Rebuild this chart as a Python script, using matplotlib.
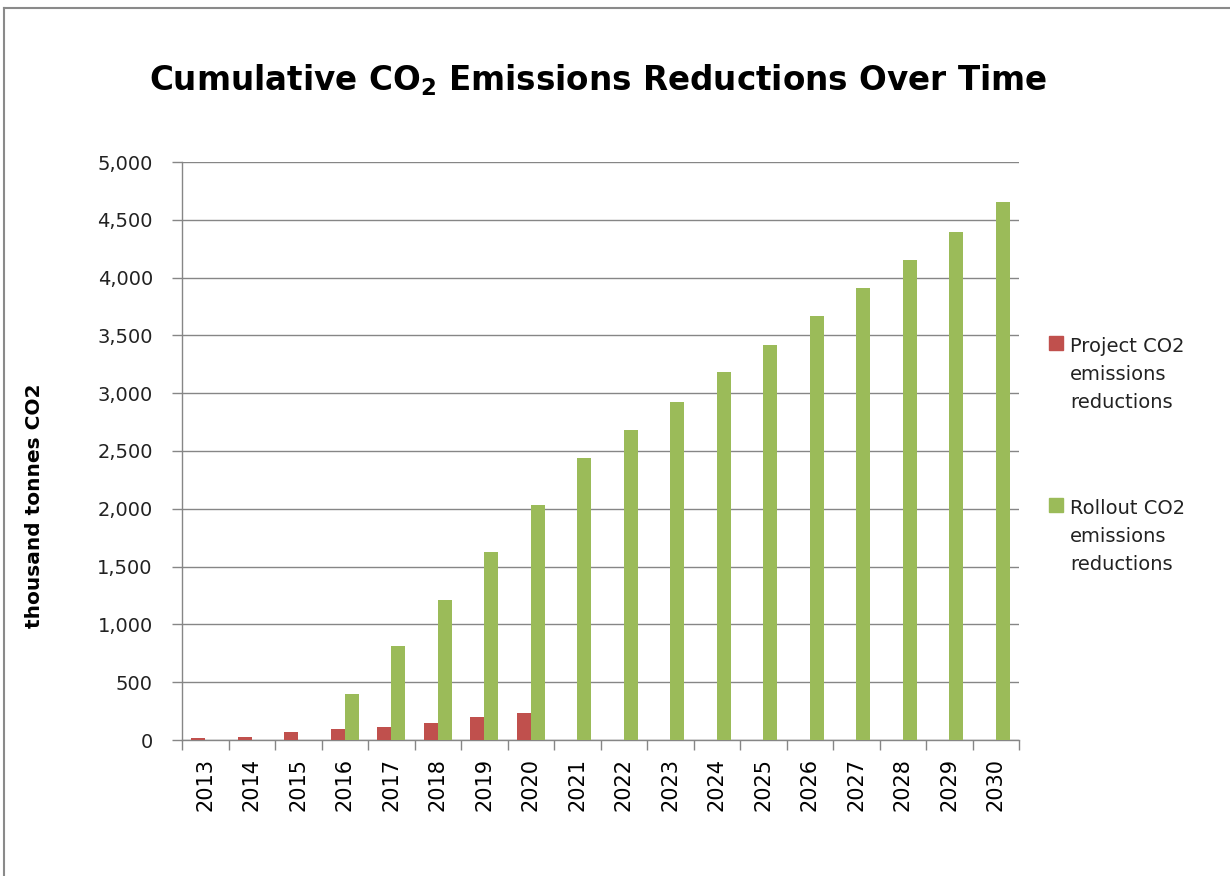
import numpy as np
import matplotlib
matplotlib.use("Agg")
from matplotlib import pyplot as plt
from matplotlib.lines import Line2D
from matplotlib.patches import Rectangle
from matplotlib.ticker import FuncFormatter, MultipleLocator

years = [str(y) for y in range(2013, 2031)]
project = [15, 25, 70, 92, 112, 147, 196, 230, 0, 0, 0, 0, 0, 0, 0, 0, 0, 0]
rollout = [0, 0, 0, 395, 813, 1211, 1626, 2033, 2440, 2682, 2924, 3183, 3417, 3664, 3914, 4153, 4396, 4650]
series_names = ["Project CO2\nemissions\nreductions", "Rollout CO2\nemissions\nreductions"]

red = "#C0504D"
green = "#9BBB59"
gray = "#868686"

plt.rcParams['font.family'] = ['DejaVu Sans']

fig = plt.figure(figsize=(12.3, 8.76), dpi=100)
ax = fig.add_axes([182 / 1230, 1 - 740 / 876, (1019 - 182) / 1230, (740 - 162) / 876])

x = np.arange(len(years))
w = 0.3
ax.bar(x - w / 2, project, w, color=red, zorder=3)
ax.bar(x + w / 2, rollout, w, color=green, zorder=3)

ax.set_xlim(-0.5, len(years) - 0.5)
ax.set_ylim(0, 5000)
ax.yaxis.set_major_locator(MultipleLocator(500))
ax.yaxis.set_major_formatter(FuncFormatter(lambda v, p: f"{int(v):,}"))
ax.grid(axis='y', color=gray, linewidth=1.0, zorder=0)
ax.set_axisbelow(True)

ax.set_xticks(x)
ax.set_xticklabels(years, rotation=90)
ax.set_xticks(np.arange(len(years) + 1) - 0.5, minor=True)
ax.tick_params(axis='x', which='major', length=0, pad=13, labelsize=15, colors='black')
ax.tick_params(axis='x', which='minor', length=7, width=1.0, color=gray, direction='out')
ax.tick_params(axis='y', length=7, width=1.0, color=gray, pad=14, labelsize=14, labelcolor='#222222')

for s in ['top', 'right']:
    ax.spines[s].set_visible(False)
for s in ['left', 'bottom']:
    ax.spines[s].set_color(gray)
    ax.spines[s].set_linewidth(1.0)

# title with subscript 2
plt.rcParams['mathtext.fontset'] = 'custom'
plt.rcParams['mathtext.rm'] = 'DejaVu Sans:bold'
fig.text(598 / 1230, 1 - 80 / 876, r"Cumulative CO$_\mathrm{2}$ Emissions Reductions Over Time",
         ha='center', va='center', fontsize=23.5, fontweight='bold')

fig.text(35 / 1230, 1 - 506 / 876, "thousand tonnes CO2", rotation=90,
         ha='center', va='center', fontsize=14.5, fontweight='bold')

# legend drawn by hand, square beside first line
for name, col, ytop in [(series_names[0], red, 343), (series_names[1], green, 505)]:
    fig.patches.append(Rectangle((1049 / 1230, 1 - (ytop + 7) / 876), 14 / 1230, 14 / 876,
                                 transform=fig.transFigure, color=col))
    fig.text(1070 / 1230, 1 - (ytop + 31) / 876, name, ha='left', va='center',
             fontsize=14, linespacing=1.6, color='#222222')

# outer chart border
fig.add_artist(Line2D([4 / 1230, 1], [1 - 8 / 876, 1 - 8 / 876], color='#8a8a8a', linewidth=1.5,
                      transform=fig.transFigure))
fig.add_artist(Line2D([4 / 1230, 4 / 1230], [0, 1 - 8 / 876], color='#8a8a8a', linewidth=1.5,
                      transform=fig.transFigure))

fig.savefig("out.png", dpi=100)
